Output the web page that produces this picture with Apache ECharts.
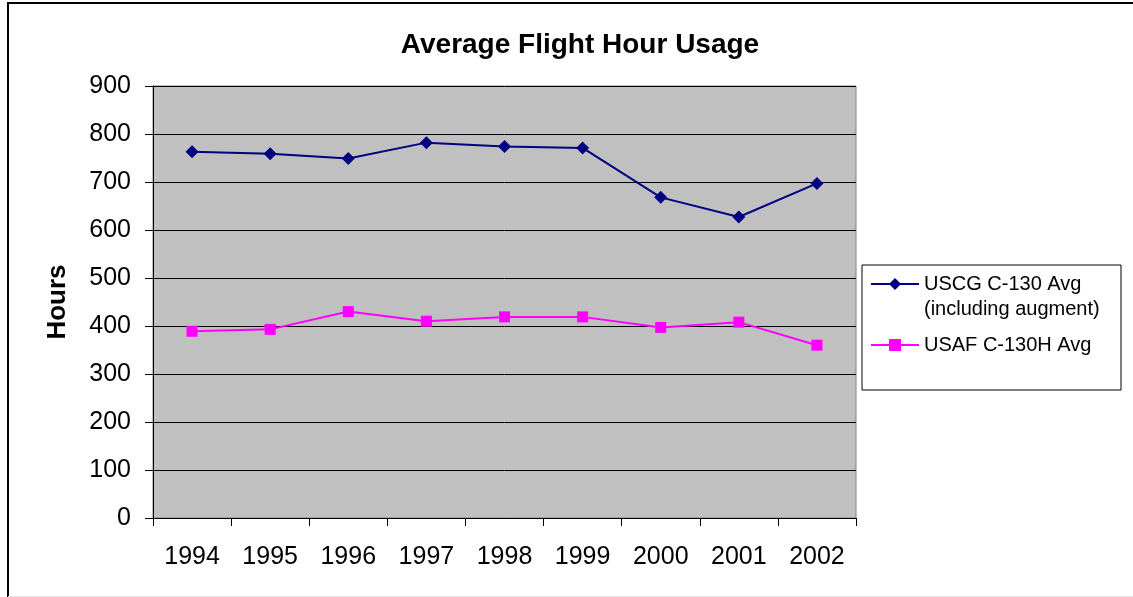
<!DOCTYPE html>
<html>
<head>
<meta charset="utf-8">
<title>Average Flight Hour Usage</title>
<script src="https://cdn.jsdelivr.net/npm/echarts@6/dist/echarts.min.js"></script>
<style>
  html, body { margin: 0; padding: 0; background: #ffffff; }
  #chart { width: 1133px; height: 597px; }
</style>
</head>
<body>
<div id="chart"></div>
<script>
// Fiscal years on the category axis
const years = ['1994', '1995', '1996', '1997', '1998', '1999', '2000', '2001', '2002'];

// Average annual flight hours per aircraft
const uscgAvg = [763, 759, 749, 782, 774, 771, 668, 627, 697];
const usafAvg = [389, 393, 430, 410, 419, 419, 397, 408, 360];

// Value axis range and step
const yMin = 0;
const yMax = 900;
const yStep = 100;

const uscgName = 'USCG C-130 Avg (including augment)';
const usafName = 'USAF C-130H Avg';

const FONT = 'Arial, "Liberation Sans", sans-serif';

const chart = echarts.init(document.getElementById('chart'), null, { renderer: 'canvas' });

chart.setOption({
  animation: false,
  backgroundColor: '#ffffff',
  title: {
    text: 'Average Flight Hour Usage',
    left: 575,
    textAlign: 'center',
    top: 26,
    textStyle: { fontFamily: FONT, fontSize: 28, fontWeight: 'bold', color: '#000000' }
  },
  grid: {
    left: 153,
    top: 86,
    right: 277,
    bottom: 79,
    show: true,
    backgroundColor: '#c0c0c0',
    borderColor: '#808080',
    borderWidth: 1
  },
  legend: {
    orient: 'vertical',
    left: 870,
    top: 249,
    padding: 0,
    itemWidth: 48,
    itemHeight: 15,
    itemGap: 16,
    // the first entry wraps onto two lines; a blank spacer line above keeps
    // its first line level with the marker
    formatter: function (name) {
      if (name === uscgName) {
        return '{s| }\n{t|USCG C-130 Avg}\n{t|(including augment)}';
      }
      return '{t|' + name + '}';
    },
    textStyle: {
      fontFamily: FONT,
      fontSize: 20,
      color: '#000000',
      rich: {
        s: { fontFamily: FONT, fontSize: 20, lineHeight: 25 },
        t: { fontFamily: FONT, fontSize: 20, lineHeight: 25, color: '#000000' }
      }
    },
    data: [uscgName, usafName]
  },
  graphic: [
    {
      type: 'rect',
      z: 1,
      shape: { x: 862, y: 265, width: 259, height: 125 },
      style: { fill: '#ffffff', stroke: '#000000', lineWidth: 1 }
    },
    {
      type: 'line',
      z: 1,
      shape: { x1: 7, y1: 3, x2: 1133, y2: 3 },
      style: { stroke: '#000000', lineWidth: 2 }
    },
    {
      type: 'line',
      z: 1,
      shape: { x1: 8, y1: 2, x2: 8, y2: 597 },
      style: { stroke: '#000000', lineWidth: 2 }
    },
    {
      type: 'line',
      z: 1,
      shape: { x1: 8, y1: 596.5, x2: 1133, y2: 596.5 },
      style: { stroke: '#e6e6e6', lineWidth: 1 }
    }
  ],
  xAxis: {
    type: 'category',
    data: years,
    boundaryGap: true,
    axisLine: { show: true, lineStyle: { color: '#000000', width: 1 } },
    axisTick: { show: true, length: 8, alignWithLabel: false, lineStyle: { color: '#000000' } },
    axisLabel: { fontFamily: FONT, fontSize: 25, color: '#000000', margin: 27 },
    splitLine: { show: false }
  },
  yAxis: {
    type: 'value',
    min: yMin,
    max: yMax,
    interval: yStep,
    name: 'Hours',
    nameLocation: 'middle',
    nameGap: 82,
    nameRotate: 90,
    nameTextStyle: { fontFamily: FONT, fontSize: 26, fontWeight: 'bold', color: '#000000' },
    axisLine: { show: true, lineStyle: { color: '#000000', width: 1 } },
    axisTick: { show: true, length: 8, lineStyle: { color: '#000000' } },
    axisLabel: { fontFamily: FONT, fontSize: 25, color: '#000000', margin: 22 },
    splitLine: { show: true, lineStyle: { color: '#000000', width: 1 } }
  },
  series: [
    {
      name: uscgName,
      type: 'line',
      data: uscgAvg,
      symbol: 'diamond',
      symbolSize: 13,
      color: '#000080',
      lineStyle: { color: '#000080', width: 2 },
      itemStyle: { color: '#000080' },
      z: 3
    },
    {
      name: usafName,
      type: 'line',
      data: usafAvg,
      symbol: 'rect',
      symbolSize: 11,
      color: '#ff00ff',
      lineStyle: { color: '#ff00ff', width: 2 },
      itemStyle: { color: '#ff00ff' },
      z: 3
    }
  ]
});
</script>
</body>
</html>
